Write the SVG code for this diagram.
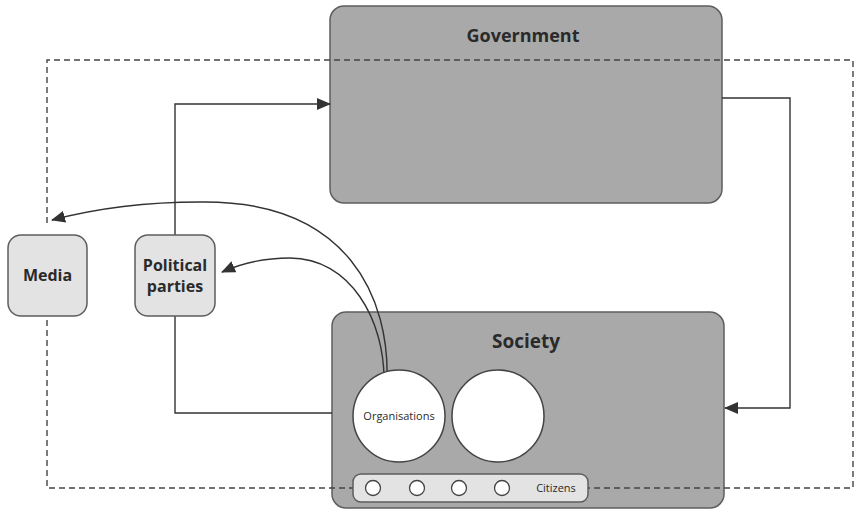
<svg xmlns="http://www.w3.org/2000/svg" width="856" height="512" viewBox="0 0 856 512">
<defs>
<style>
.big{fill:#a9a9a9;stroke:#5e5e5e;stroke-width:1.5}
.small{fill:#e3e3e3;stroke:#5e5e5e;stroke-width:1.5}
.circ{fill:#ffffff;stroke:#444;stroke-width:1.5}
.dot{fill:#ffffff;stroke:#444;stroke-width:1.3}
.conn{fill:none;stroke:#333;stroke-width:1.4}
.dash{fill:none;stroke:#444;stroke-width:1.4;stroke-dasharray:6 4}
.t{font-family:"Open Sans","DejaVu Sans",sans-serif;font-weight:bold;fill:#2a2a2a;text-anchor:middle}
.s{font-family:"Open Sans","DejaVu Sans",sans-serif;fill:#2a2a2a;text-anchor:middle}
</style>
<marker id="ah" markerWidth="14" markerHeight="12" refX="13" refY="6" orient="auto" markerUnits="userSpaceOnUse">
<path d="M0,0 L14,6 L0,12 Z" fill="#333"/>
</marker>
</defs>
<rect width="856" height="512" fill="#ffffff"/>
<g id="government">
<rect class="big" x="330" y="6" width="392" height="197" rx="14"/>
<text class="t" x="523" y="42" font-size="18">Government</text>
</g>
<g id="society">
<rect class="big" x="332" y="312" width="392" height="196" rx="14"/>
<text class="t" x="526" y="348" font-size="19">Society</text>
</g>
<g id="connectors">
<path class="dash" d="M47,223 L47,60 L853,60 L853,488 L588,488"/>
<path class="dash" d="M355,488 L47,488 L47,317"/>
<path class="conn" d="M332,413 L175,413 L175,316"/>
<path class="conn" d="M175,235 L175,104 L330,104" marker-end="url(#ah)"/>
<path class="conn" d="M722,98 L790,98 L790,408 L725,408" marker-end="url(#ah)"/>
<path class="conn" d="M387,382 C390,300 350,200 200,202 C140,202 90,210 52,220" marker-end="url(#ah)"/>
<path class="conn" d="M384,382 C385,320 350,258 290,258 C260,258 240,264 222,272" marker-end="url(#ah)"/>
</g>
<g id="media">
<rect class="small" x="8" y="235" width="79" height="81" rx="13"/>
<text class="t" x="47.5" y="281" font-size="16">Media</text>
</g>
<g id="political-parties">
<rect class="small" x="135" y="235" width="80" height="81" rx="13"/>
<text class="t" x="175" y="271" font-size="16">Political</text>
<text class="t" x="175" y="292" font-size="16">parties</text>
</g>
<g id="organisations">
<circle class="circ" cx="399" cy="416" r="46"/>
<text class="s" x="399" y="420" font-size="11">Organisations</text>
</g>
<g id="organisation-2">
<circle class="circ" cx="498" cy="416" r="46"/>
</g>
<g id="citizens">
<rect class="small" x="353" y="474" width="235" height="28" rx="8" fill="#ececec"/>
<circle class="dot" cx="373" cy="488" r="7.5"/>
<circle class="dot" cx="417" cy="488" r="7.5"/>
<circle class="dot" cx="459" cy="488" r="7.5"/>
<circle class="dot" cx="502" cy="488" r="7.5"/>
<text class="s" x="556" y="492" font-size="11">Citizens</text>
</g>
</svg>
